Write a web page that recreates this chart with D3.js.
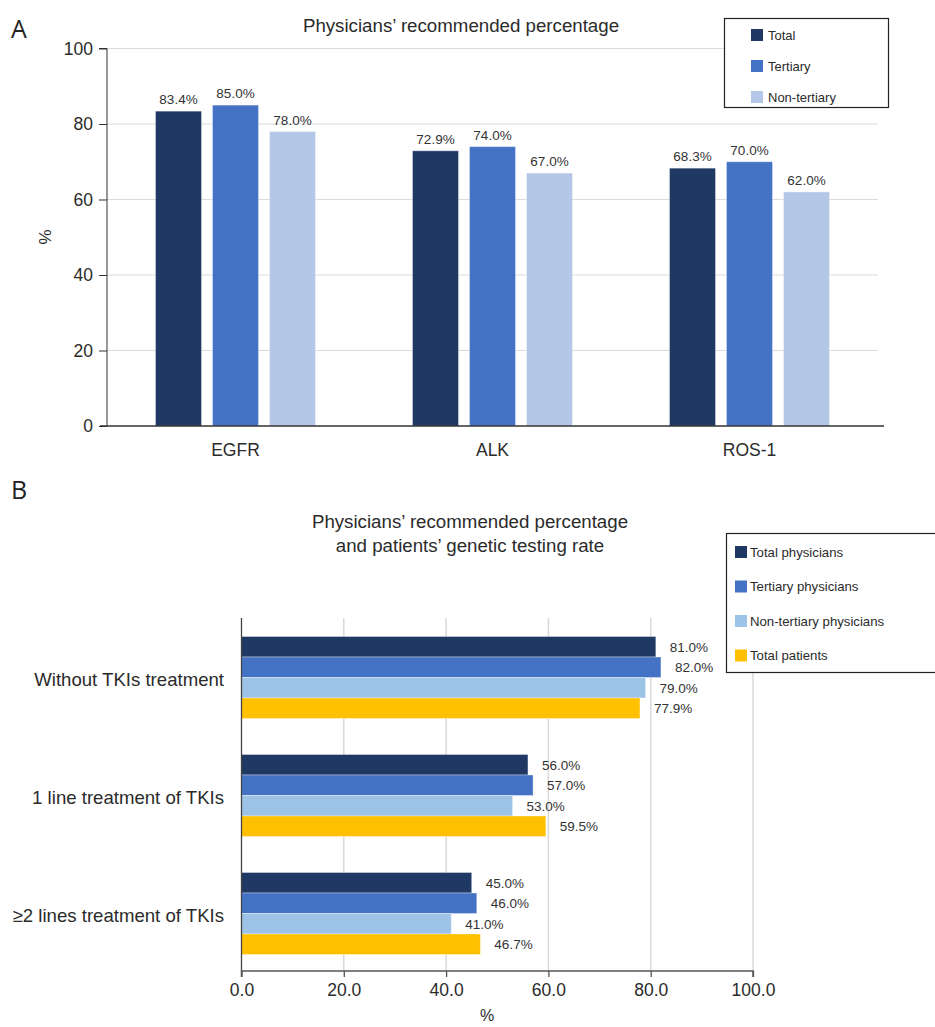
<!DOCTYPE html>
<html>
<head>
<meta charset="utf-8">
<script src="https://cdn.jsdelivr.net/npm/d3@7"></script>
<style>
  html, body { margin: 0; padding: 0; background: #fff; }
  svg { display: block; font-family: "Liberation Sans", Arial, Helvetica, sans-serif; }
</style>
</head>
<body>
<svg id="chart" width="935" height="1027"></svg>
<script>
// ---- Panel A data: physicians' recommended percentage by gene ----
const genes = ["EGFR", "ALK", "ROS-1"];
const groupsA = ["Total", "Tertiary", "Non-tertiary"];
const totalA = [83.4, 72.9, 68.3];
const tertiaryA = [85.0, 74.0, 70.0];
const nonTertiaryA = [78.0, 67.0, 62.0];
const ticksA = [0, 20, 40, 60, 80, 100];

// ---- Panel B data: recommendation vs. patients' testing rate by TKI history ----
const stages = ["Without TKIs treatment", "1 line treatment of TKIs", "≥2 lines treatment of TKIs"];
const groupsB = ["Total physicians", "Tertiary physicians", "Non-tertiary physicians", "Total patients"];
const totalPhys = [81.0, 56.0, 45.0];
const tertiaryPhys = [82.0, 57.0, 46.0];
const nonTertiaryPhys = [79.0, 53.0, 41.0];
const totalPatients = [77.9, 59.5, 46.7];
const ticksB = [0, 20, 40, 60, 80, 100];

const coloursA = ["#203864", "#4472C4", "#B4C7E7"];
const coloursB = ["#203864", "#4472C4", "#9DC3E6", "#FFC000"];

const svg = d3.select("#chart");
const textCol = "#2b2b2b";

// ================= Panel A =================
const seriesA = [totalA, tertiaryA, nonTertiaryA];
const rowsA = genes.map((g, i) => ({ gene: g, vals: groupsA.map((k, j) => ({ key: k, v: seriesA[j][i] })) }));

const xA = d3.scaleBand().domain(genes).range([107, 878]).paddingInner(0).paddingOuter(0);
const xA1 = d3.scaleBand().domain(groupsA).range([48.5, 208.5]).paddingInner(11 / 57);
const yA = d3.scaleLinear().domain([0, 100]).range([426, 48.5]);
const colA = d3.scaleOrdinal().domain(groupsA).range(coloursA);

const gA = svg.append("g");

// horizontal gridlines
gA.append("g").selectAll("line").data(ticksA.filter(t => t > 0)).join("line")
  .attr("x1", 107).attr("x2", 878)
  .attr("y1", d => yA(d)).attr("y2", d => yA(d))
  .attr("stroke", "#dcdcdc").attr("stroke-width", 1.2);

// y axis
const axA = gA.append("g").attr("transform", "translate(107,0)")
  .call(d3.axisLeft(yA).tickValues(ticksA).tickSize(8).tickPadding(6));
axA.select(".domain").attr("stroke", "#333").attr("d", `M-8,${yA(100)}H0V${yA(0)}`);
axA.selectAll(".tick line").attr("stroke", "#333");
axA.selectAll(".tick text").attr("font-size", 17.5).attr("fill", textCol).attr("font-family", "Liberation Sans, Arial, sans-serif");

// bars
const grpA = gA.append("g").selectAll("g").data(rowsA).join("g")
  .attr("transform", d => `translate(${xA(d.gene)},0)`);
grpA.selectAll("rect").data(d => d.vals).join("rect")
  .attr("x", d => xA1(d.key)).attr("width", xA1.bandwidth())
  .attr("y", d => yA(d.v)).attr("height", d => yA(0) - yA(d.v))
  .attr("fill", d => colA(d.key))
  .attr("stroke", "rgba(255,255,255,0.35)").attr("stroke-width", 1);
grpA.selectAll("text").data(d => d.vals).join("text")
  .attr("x", d => xA1(d.key) + xA1.bandwidth() / 2)
  .attr("y", d => yA(d.v) - 7)
  .attr("text-anchor", "middle").attr("font-size", 13.5).attr("fill", "#333")
  .text(d => d.v.toFixed(1) + "%");

// baseline
gA.append("line").attr("x1", 100).attr("x2", 884).attr("y1", yA(0)).attr("y2", yA(0))
  .attr("stroke", "#333").attr("stroke-width", 1.5);

// category labels
gA.append("g").selectAll("text").data(genes).join("text")
  .attr("x", d => xA(d) + xA.bandwidth() / 2).attr("y", 456)
  .attr("text-anchor", "middle").attr("font-size", 17.5).attr("fill", textCol)
  .text(d => d);

// y label
gA.append("text").attr("transform", "translate(51,237) rotate(-90)")
  .attr("text-anchor", "middle").attr("font-size", 17).attr("fill", textCol).text("%");

// title
gA.append("text").attr("x", 461).attr("y", 32).attr("text-anchor", "middle")
  .attr("font-size", 18.7).attr("fill", textCol).text("Physicians’ recommended percentage");

// panel letter
svg.append("text").attr("x", 11).attr("y", 38).attr("font-size", 25).attr("fill", "#222")
  .attr("font-family", "Open Sans, Liberation Sans, sans-serif").text("A");

// legend A
const legA = svg.append("g");
legA.append("rect").attr("x", 724.5).attr("y", 18.5).attr("width", 164).attr("height", 89)
  .attr("fill", "#fff").attr("stroke", "#222").attr("stroke-width", 1.2);
const legAItems = legA.selectAll("g").data(groupsA).join("g")
  .attr("transform", (d, i) => `translate(751,${35 + i * 31})`);
legAItems.append("rect").attr("x", 0).attr("y", -6).attr("width", 12).attr("height", 12)
  .attr("fill", d => colA(d));
legAItems.append("text").attr("x", 17).attr("y", 4.5).attr("font-size", 13).attr("fill", textCol)
  .text(d => d);

// ================= Panel B =================
const seriesB = [totalPhys, tertiaryPhys, nonTertiaryPhys, totalPatients];
const rowsB = stages.map((s, i) => ({ stage: s, vals: groupsB.map((k, j) => ({ key: k, v: seriesB[j][i] })) }));

const xB = d3.scaleLinear().domain([0, 100]).range([241.5, 753]);
const yB = d3.scaleBand().domain(stages).range([618, 972]).paddingInner(0).paddingOuter(0);
const yB1 = d3.scaleBand().domain(groupsB).range([18.5, 100.5]).paddingInner(0);
const colB = d3.scaleOrdinal().domain(groupsB).range(coloursB);

const gB = svg.append("g");

// vertical gridlines
gB.append("g").selectAll("line").data(ticksB.filter(t => t > 0)).join("line")
  .attr("x1", d => xB(d)).attr("x2", d => xB(d))
  .attr("y1", 618).attr("y2", 971)
  .attr("stroke", "#d9d9d9").attr("stroke-width", 1.5);

// bars
const grpB = gB.append("g").selectAll("g").data(rowsB).join("g")
  .attr("transform", d => `translate(0,${yB(d.stage)})`);
grpB.selectAll("rect").data(d => d.vals).join("rect")
  .attr("x", xB(0)).attr("width", d => xB(d.v) - xB(0))
  .attr("y", d => yB1(d.key)).attr("height", yB1.bandwidth())
  .attr("fill", d => colB(d.key))
  .attr("stroke", "rgba(255,255,255,0.35)").attr("stroke-width", 1);
grpB.selectAll("text").data(d => d.vals).join("text")
  .attr("x", d => xB(d.v) + 14)
  .attr("y", d => yB1(d.key) + yB1.bandwidth() / 2 + 5)
  .attr("font-size", 13.5).attr("fill", "#333")
  .text(d => d.v.toFixed(1) + "%");

// y axis line
gB.append("line").attr("x1", xB(0)).attr("x2", xB(0)).attr("y1", 618).attr("y2", 971)
  .attr("stroke", "#444").attr("stroke-width", 1.3);

// x axis
const axB = gB.append("g").attr("transform", "translate(0,971)")
  .call(d3.axisBottom(xB).tickValues(ticksB).tickSize(6).tickPadding(7).tickFormat(d3.format(".1f")));
axB.select(".domain").attr("stroke", "#555").attr("stroke-width", 1.5).attr("d", `M${xB(0)},6V0H${xB(100)}V6`);
axB.selectAll(".tick line").attr("stroke", "#555").attr("stroke-width", 1.3);
axB.selectAll(".tick text").attr("font-size", 17.5).attr("fill", textCol).attr("font-family", "Liberation Sans, Arial, sans-serif");

// x label
gB.append("text").attr("x", 487).attr("y", 1021).attr("text-anchor", "middle")
  .attr("font-size", 16).attr("fill", textCol).text("%");

// category labels
gB.append("g").selectAll("text").data(stages).join("text")
  .attr("x", 224).attr("y", d => yB(d) + yB.bandwidth() / 2 + 9)
  .attr("text-anchor", "end").attr("font-size", 18.6).attr("fill", textCol)
  .text(d => d);

// title
const titleB = gB.append("text").attr("text-anchor", "middle").attr("font-size", 18.7).attr("fill", textCol);
titleB.append("tspan").attr("x", 470).attr("y", 528).text("Physicians’ recommended percentage");
titleB.append("tspan").attr("x", 470).attr("y", 552).text("and patients’ genetic testing rate");

// panel letter
svg.append("text").attr("x", 11).attr("y", 499).attr("font-size", 25).attr("fill", "#222")
  .attr("font-family", "Open Sans, Liberation Sans, sans-serif").text("B");

// legend B
const legB = svg.append("g");
legB.append("rect").attr("x", 726.5).attr("y", 533.5).attr("width", 215).attr("height", 139)
  .attr("fill", "#fff").attr("stroke", "#222").attr("stroke-width", 1.2);
const legBItems = legB.selectAll("g").data(groupsB).join("g")
  .attr("transform", (d, i) => `translate(735,${552 + i * 34.5})`);
legBItems.append("rect").attr("x", 0).attr("y", -6).attr("width", 12).attr("height", 12)
  .attr("fill", d => colB(d));
legBItems.append("text").attr("x", 15).attr("y", 4.5).attr("font-size", 13.2).attr("fill", textCol)
  .text(d => d);
</script>
</body>
</html>
